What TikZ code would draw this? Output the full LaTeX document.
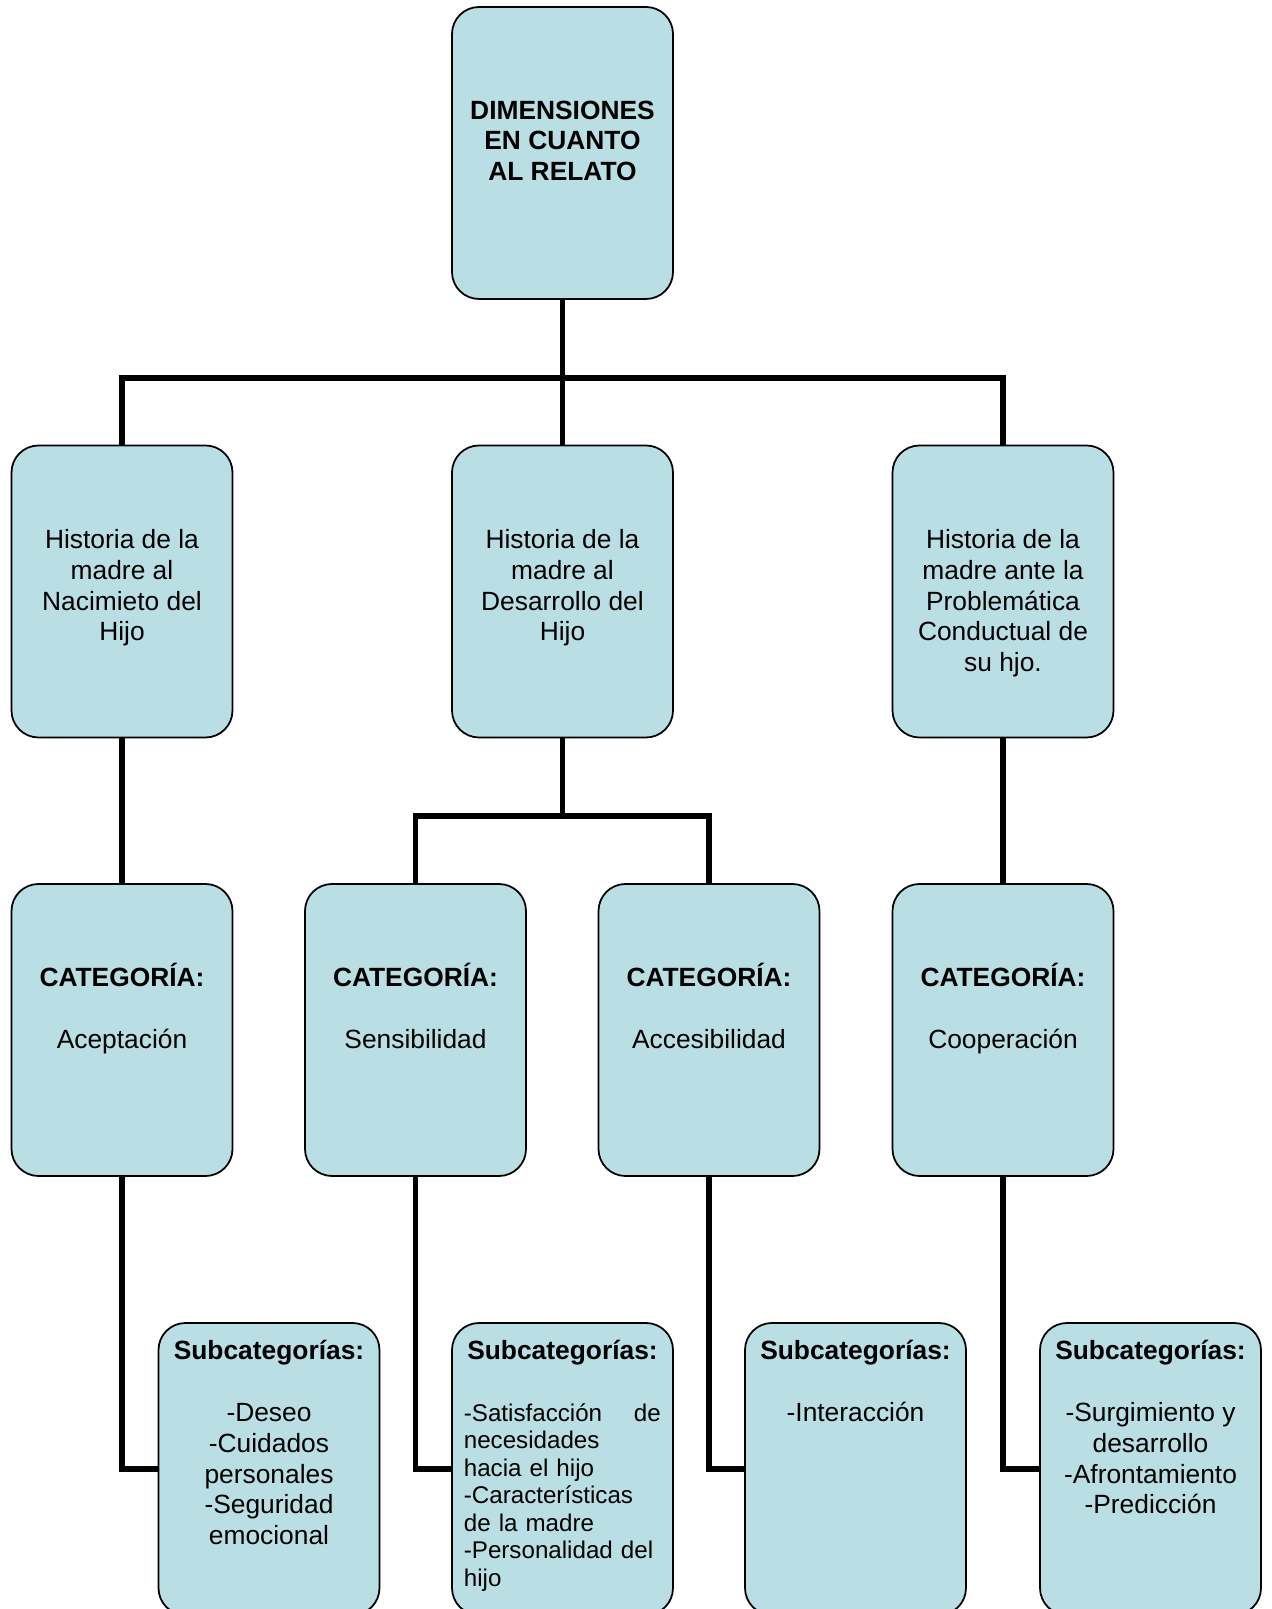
\documentclass[tikz,border=0pt]{standalone}
\usepackage{fontspec}
\setmainfont{Liberation Sans}

\definecolor{cajafondo}{RGB}{185,222,227}

\begin{document}
\begin{tikzpicture}[
    every node/.style={font=\fontsize{15}{17.4}\selectfont},
    caja/.style={draw=black, line width=1pt, rounded corners=0.54cm, fill=cajafondo, minimum width=4.42cm, minimum height=5.84cm, inner sep=0pt},
    texto/.style={below, inner sep=0pt, align=center},
    titulo/.style={texto, font=\fontsize{15}{17.4}\selectfont\bfseries},
    lista/.style={below right, inner sep=0pt, text width=3.94cm, align=left, font=\fontsize{13.75}{15.65}\selectfont},
    conn/.style={line width=3.1pt},
]
\useasboundingbox (0,0) rectangle (25.42,32.18);

% --- Boxes ---
\node[caja] (dim) at (11.25,29.12) {};

\node[caja] (hist1) at (2.44,20.35) {};
\node[caja] (hist2) at (11.25,20.35) {};
\node[caja] (hist3) at (20.06,20.35) {};

\node[caja] (cat1) at (2.44,11.58) {};
\node[caja] (cat2) at (8.31,11.58) {};
\node[caja] (cat3) at (14.18,11.58) {};
\node[caja] (cat4) at (20.06,11.58) {};

\node[caja] (sub1) at (5.38,2.80) {};
\node[caja] (sub2) at (11.25,2.80) {};
\node[caja] (sub3) at (17.11,2.80) {};
\node[caja] (sub4) at (23.01,2.80) {};

% --- Texts ---
\node[titulo] (dimT) at (11.25,30.17) {DIMENSIONES\\EN CUANTO\\AL RELATO};

\node[texto] (hist1T) at (2.44,21.59) {Historia de la\\madre al\\Nacimieto del\\Hijo};
\node[texto] (hist2T) at (11.25,21.59) {Historia de la\\madre al\\Desarrollo del\\Hijo};
\node[texto] (hist3T) at (20.06,21.59) {Historia de la\\madre ante la\\Problemática\\Conductual de\\su hjo.};

\node[texto] (cat1T) at (2.44,12.92) {\textbf{CATEGORÍA:}\\[17.5pt]Aceptación};
\node[texto] (cat2T) at (8.31,12.92) {\textbf{CATEGORÍA:}\\[17.5pt]Sensibilidad};
\node[texto] (cat3T) at (14.18,12.92) {\textbf{CATEGORÍA:}\\[17.5pt]Accesibilidad};
\node[texto] (cat4T) at (20.06,12.92) {\textbf{CATEGORÍA:}\\[17.5pt]Cooperación};

\node[texto] (sub1T) at (5.38,5.38) {\textbf{Subcategorías:}\\[18pt]-Deseo\\-Cuidados\\personales\\-Seguridad\\emocional};
\node[titulo] (sub2T) at (11.25,5.38) {Subcategorías:};
\node[lista] (sub2L) at (9.27,4.12) {-Satisfacción\hfill de\\necesidades\\hacia el hijo\\-Características\\de la madre\\-Personalidad del\\hijo};
\node[texto] (sub3T) at (17.11,5.38) {\textbf{Subcategorías:}\\[18pt]-Interacción};
\node[texto] (sub4T) at (23.01,5.38) {\textbf{Subcategorías:}\\[18pt]-Surgimiento y\\desarrollo\\-Afrontamiento\\-Predicción};

% --- Connectors ---
\coordinate (barA) at (11.25,24.62);
\coordinate (barB) at (11.25,15.86);

\draw[conn] (dim) -- (hist2);
\draw[conn] (hist1.north) |- (barA) -| (hist3.north);
\draw[conn] (hist1) -- (cat1);
\draw[conn] (hist3) -- (cat4);
\draw[conn] (hist2) -- (barB);
\draw[conn] (cat2.north) |- (barB) -| (cat3.north);

\draw[conn] (cat1.south) |- (sub1.west);
\draw[conn] (cat2.south) |- (sub2.west);
\draw[conn] (cat3.south) |- (sub3.west);
\draw[conn] (cat4.south) |- (sub4.west);

\end{tikzpicture}
\end{document}
